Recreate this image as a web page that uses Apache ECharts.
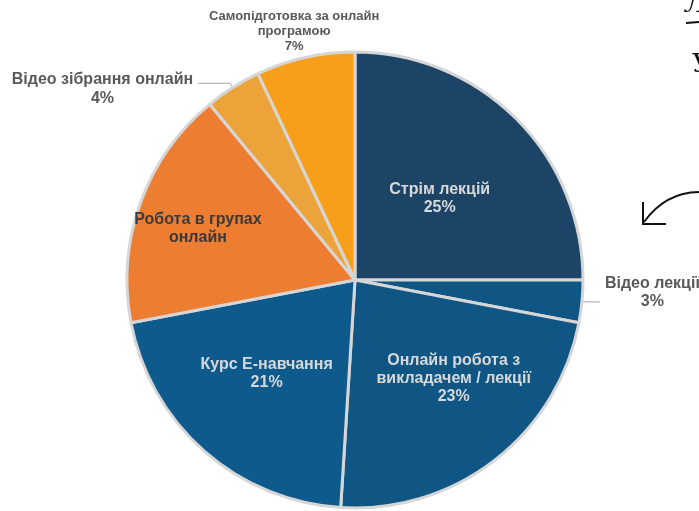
<!DOCTYPE html>
<html>
<head>
<meta charset="utf-8">
<script src="https://cdn.jsdelivr.net/npm/echarts@6/dist/echarts.min.js"></script>
<style>
  html, body { margin: 0; padding: 0; background: #fff; }
  #chart { width: 699px; height: 511px; }
</style>
</head>
<body>
<div id="chart"></div>
<script>
// data (clockwise from 12 o'clock)
var categories = [
  'Стрім лекцій',
  'Відео лекції',
  'Онлайн робота з\nвикладачем / лекції',
  'Курс Е-навчання',
  'Робота в групах\nонлайн',
  'Відео зібрання онлайн',
  'Самопідготовка за онлайн\nпрограмою'
];
var shares = [25, 3, 23, 21, 17, 4, 7];
var showPercent = [true, true, true, true, false, true, true];
var outside = [false, true, false, false, false, true, true];

var colors = ['#1c4466', '#0f5684', '#0f5684', '#0e5a8c', '#ed7d31', '#eba33a', '#f79f1b'];
// label nudges [dx, dy]
var nudge = [[2, 1], [0, -9], [27, 6], [-11, 6], [-47, -12], [0, 6], [27, -21]];
var outerFont = [0, 16, 0, 0, 0, 16, 13];
var outerLine = [0, 18, 0, 0, 0, 19, 15];

var chart = echarts.init(document.getElementById('chart'));

var pieData = categories.map(function (name, i) {
  var item = {
    name: name,
    value: shares[i],
    itemStyle: { color: colors[i] }
  };
  if (outside[i]) {
    item.label = {
      position: 'outside',
      formatter: function (p) {
        var lines = p.name.split('\n');
        lines.push(p.value + '%');
        return lines.map(function (l) { return '{c|' + l + '}'; }).join('\n');
      },
      color: '#595959',
      fontSize: outerFont[i],
      lineHeight: outerLine[i],
      rich: { c: { align: 'center', fontSize: outerFont[i], lineHeight: outerLine[i], fontWeight: 'bold', color: '#595959',
        fontFamily: 'Liberation Sans, Arial, sans-serif' } }
    };
    item.labelLine = { show: i !== 6, length: 5, length2: i === 1 ? 13 : 32 };
  } else {
    item.label = {
      position: 'inside',
      color: i === 4 ? '#3a3a3a' : '#d8d8d8'
    };
  }
  return item;
});

chart.setOption({
  backgroundColor: '#ffffff',
  animation: false,
  graphic: [
    { type: 'text', x: 685, y: -8, style: { text: 'Л', font: 'italic 26px DejaVu Serif', fill: '#111' } },
    { type: 'line', shape: { x1: 686, y1: 23, x2: 699, y2: 22 }, style: { stroke: '#111', lineWidth: 2 } },
    { type: 'text', x: 692, y: 52, style: { text: 'У', font: '26px DejaVu Serif', fill: '#111' } },
    { type: 'bezierCurve', shape: { x1: 700, y1: 192, cpx1: 676, cpy1: 192, cpx2: 657, cpy2: 204, x2: 644, y2: 222 },
      style: { stroke: '#111', lineWidth: 2, fill: null } },
    { type: 'polyline', shape: { points: [[643, 202], [643, 224], [666, 224]] }, style: { stroke: '#111', lineWidth: 2, fill: null } }
  ],
  series: [
    {
      type: 'pie',
      center: [355, 280],
      radius: 228,
      startAngle: 90,
      clockwise: true,
      avoidLabelOverlap: false,
      itemStyle: {
        borderColor: '#d6d6d6',
        borderWidth: 3
      },
      label: {
        fontFamily: 'Liberation Sans, Arial, sans-serif',
        fontWeight: 'bold',
        fontSize: 16,
        lineHeight: 18,
        formatter: function (p) {
          return showPercent[p.dataIndex] ? p.name + '\n' + p.value + '%' : p.name;
        }
      },
      labelLine: {
        lineStyle: { color: '#a6a6a6', width: 1 }
      },
      labelLayout: function (params) {
        var d = nudge[params.dataIndex];
        var res = { dx: d[0], dy: d[1] };
        if (params.dataIndex === 6) res.align = 'center';
        return res;
      },
      emphasis: { disabled: true },
      data: pieData
    }
  ]
});
</script>
</body>
</html>
